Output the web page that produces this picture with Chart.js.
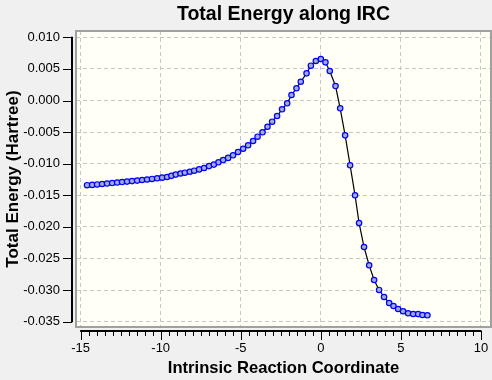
<!DOCTYPE html>
<html>
<head>
<meta charset="utf-8">
<script src="https://cdn.jsdelivr.net/npm/chart.js@4.4.1/dist/chart.umd.min.js"></script>
<style>
  html, body { margin: 0; padding: 0; background: #f0f0f0; }
  #c { display: block; }
</style>
</head>
<body>
<canvas id="c" width="492" height="380"></canvas>
<script>
// ---- data ----
const ircCoord = [
  -14.60, -14.28, -13.97, -13.66, -13.35, -13.03, -12.72, -12.41, -12.10, -11.79,
  -11.47, -11.16, -10.85, -10.54, -10.22, -9.91, -9.60, -9.33, -9.06, -8.76,
  -8.49, -8.18, -7.91, -7.60, -7.29, -6.98, -6.68, -6.39, -6.10, -5.79,
  -5.48, -5.17, -4.85, -4.54, -4.23, -3.95, -3.64, -3.33, -3.04, -2.73,
  -2.42, -2.10, -1.83, -1.52, -1.25, -0.89, -0.62, -0.31, 0.00, 0.29,
  0.56, 0.92, 1.21, 1.52, 1.83, 2.14, 2.39, 2.70, 3.02, 3.33,
  3.64, 3.95, 4.27, 4.54, 4.83, 5.14, 5.45, 5.77, 6.08, 6.35, 6.66
];
const totalEnergy = [
  -0.01340, -0.01335, -0.01328, -0.01321, -0.01314, -0.01306, -0.01298, -0.01290, -0.01283, -0.01275,
  -0.01267, -0.01258, -0.01250, -0.01241, -0.01231, -0.01221, -0.01210, -0.01192, -0.01172, -0.01155,
  -0.01142, -0.01127, -0.01111, -0.01090, -0.01068, -0.01038, -0.01014, -0.00978, -0.00942, -0.00908,
  -0.00867, -0.00815, -0.00763, -0.00709, -0.00641, -0.00573, -0.00503, -0.00415, -0.00335, -0.00245,
  -0.00139, -0.00044, 0.00087, 0.00193, 0.00297, 0.00430, 0.00551, 0.00625, 0.00657, 0.00604,
  0.00467, 0.00229, -0.00123, -0.00551, -0.01025, -0.01500, -0.01938, -0.02318, -0.02608, -0.02840,
  -0.02998, -0.03109, -0.03204, -0.03252, -0.03299, -0.03335, -0.03367, -0.03378, -0.03380, -0.03394, -0.03399
];
const xTicks = [-15, -10, -5, 0, 5, 10];
const yTicks = [0.010, 0.005, 0.000, -0.005, -0.010, -0.015, -0.020, -0.025, -0.030, -0.035];
const xMinorStep = 0.5;

const FONT = "'Liberation Sans', Arial, sans-serif";
const AREA = { left: 76, right: 491, top: 31, bottom: 327 };

const frame = {
  id: 'frame',
  afterLayout(chart) {
    const ca = chart.chartArea;
    Object.assign(ca, AREA);
    ca.width = AREA.right - AREA.left;
    ca.height = AREA.bottom - AREA.top;
    const xs = chart.scales.x, ys = chart.scales.y;
    xs.left = AREA.left; xs.right = AREA.right; xs.width = ca.width;
    xs.top = AREA.bottom; xs.height = xs.bottom - xs.top;
    ys.top = AREA.top; ys.bottom = AREA.bottom; ys.height = ca.height;
    ys.right = AREA.left; ys.width = ys.right - ys.left;
    xs.configure(); ys.configure();
    const t = chart.titleBlock;
    if (t) { t.left = AREA.left; t.right = AREA.right; t.width = ca.width; }
  },
  beforeDraw(chart) {
    const {ctx, chartArea: a} = chart;
    ctx.save();
    ctx.fillStyle = '#fffff6';
    ctx.fillRect(a.left, a.top, a.right - a.left, a.bottom - a.top);
    ctx.restore();
  },
  afterDraw(chart) {
    const {ctx, chartArea: a, scales} = chart;
    const xs = scales.x, ys = scales.y;
    ctx.save();
    // plot border
    ctx.strokeStyle = '#a0a0a0';
    ctx.lineWidth = 2;
    ctx.strokeRect(a.left, a.top, a.right - a.left, a.bottom - a.top);
    // y axis
    ctx.strokeStyle = '#000';
    const yTop = ys.getPixelForValue(yTicks[0]);
    const yBot = ys.getPixelForValue(yTicks[yTicks.length - 1]);
    const axX = a.left - 4;
    ctx.lineWidth = 2;
    ctx.beginPath();
    ctx.moveTo(axX, yTop - 0.5); ctx.lineTo(axX, yBot + 0.5);
    ctx.stroke();
    ctx.lineWidth = 1;
    yTicks.forEach(v => {
      const p = Math.round(ys.getPixelForValue(v)) + 0.5;
      ctx.beginPath(); ctx.moveTo(axX - 9, p); ctx.lineTo(axX, p); ctx.stroke();
    });
    // x axis
    const axY = a.bottom + 4;
    const xL = xs.getPixelForValue(xTicks[0]);
    const xR = xs.getPixelForValue(xTicks[xTicks.length - 1]);
    ctx.lineWidth = 2;
    ctx.beginPath();
    ctx.moveTo(xL - 0.5, axY); ctx.lineTo(xR + 0.5, axY);
    ctx.stroke();
    ctx.lineWidth = 1;
    const n = Math.round((xTicks[xTicks.length - 1] - xTicks[0]) / xMinorStep);
    for (let i = 0; i <= n; i++) {
      const v = xTicks[0] + i * xMinorStep;
      const p = Math.round(xs.getPixelForValue(v)) + 0.5;
      const major = Math.abs(v / 5 - Math.round(v / 5)) < 1e-6;
      ctx.beginPath(); ctx.moveTo(p, axY); ctx.lineTo(p, axY + (major ? 9 : 5)); ctx.stroke();
    }
    ctx.restore();
  }
};

new Chart(document.getElementById('c'), {
  type: 'line',
  data: {
    datasets: [{
      data: ircCoord.map((x, i) => ({x: x, y: totalEnergy[i]})),
      borderColor: '#000000',
      borderWidth: 1.2,
      pointRadius: 2.7,
      pointBorderWidth: 1.2,
      pointBackgroundColor: '#a4acc8',
      pointBorderColor: '#0000ff',
      tension: 0,
      fill: false
    }]
  },
  options: {
    responsive: false,
    animation: false,
    devicePixelRatio: 1,
    layout: { padding: { left: 0, right: 1, top: 0, bottom: 0 } },
    plugins: {
      legend: { display: false },
      tooltip: { enabled: false },
      title: {
        display: true,
        text: 'Total Energy along IRC',
        fullSize: false,
        color: '#000',
        font: { family: FONT, size: 19.5, weight: 'bold' },
        padding: { top: 3, bottom: 4.6 }
      }
    },
    scales: {
      x: {
        type: 'linear',
        min: -15.29,
        max: 10.63,
        afterBuildTicks: s => { s.ticks = xTicks.map(v => ({value: v})); },
        afterFit: s => { s.height = 53; s.paddingLeft = 0; s.paddingRight = 0; },
        border: { display: false, dash: [4, 3] },
        grid: { color: '#c6c6c6', lineWidth: 1, drawTicks: false },
        ticks: {
          autoSkip: false, maxRotation: 0, padding: 14, color: '#000',
          font: { family: FONT, size: 13 },
          callback: v => String(v)
        },
        title: {
          display: true, text: 'Intrinsic Reaction Coordinate', color: '#000',
          font: { family: FONT, size: 16.6, weight: 'bold' },
          padding: { top: 0, bottom: 2 }
        }
      },
      y: {
        type: 'linear',
        min: -0.03584,
        max: 0.01100,
        afterBuildTicks: s => { s.ticks = yTicks.map(v => ({value: v})); },
        afterFit: s => { s.width = 76; s.paddingTop = 0; s.paddingBottom = 0; },
        border: { display: false, dash: [4, 3] },
        grid: { color: '#c6c6c6', lineWidth: 1, drawTicks: false },
        ticks: {
          autoSkip: false, padding: 16, color: '#000',
          font: { family: FONT, size: 13 },
          callback: v => v.toFixed(3)
        },
        title: {
          display: true, text: 'Total Energy (Hartree)', color: '#000',
          font: { family: FONT, size: 17, weight: 'bold' },
          padding: { top: 3, bottom: 0 }
        }
      }
    }
  },
  plugins: [frame]
});
</script>
</body>
</html>
